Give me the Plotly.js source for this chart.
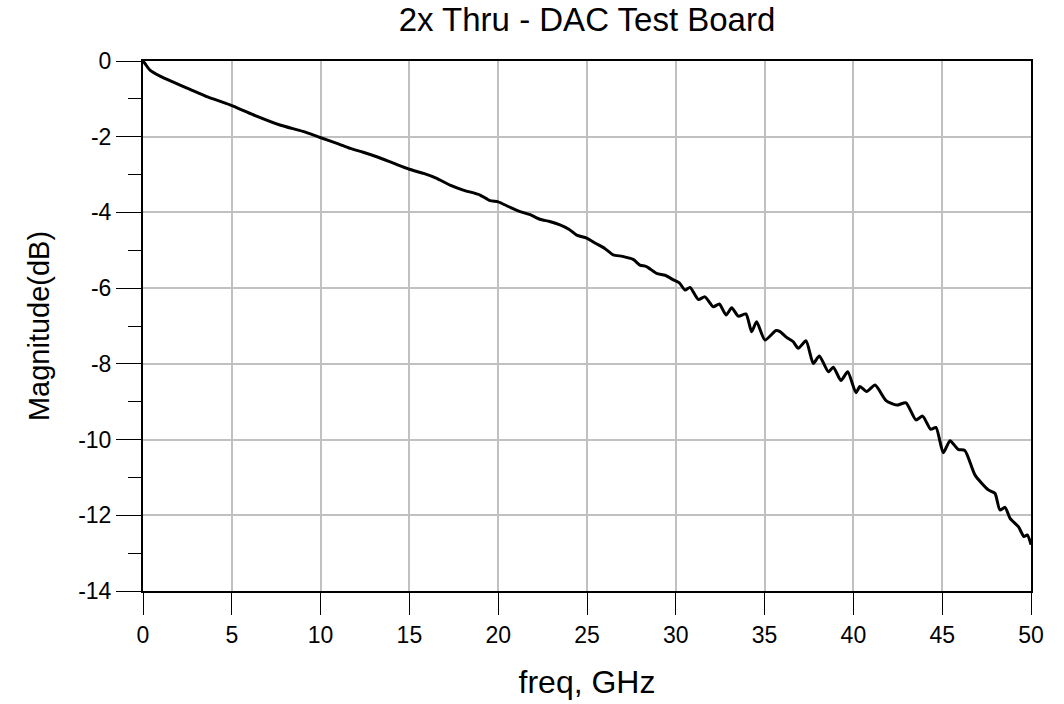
<!DOCTYPE html>
<html>
<head>
<meta charset="utf-8">
<script src="https://cdn.plot.ly/plotly-3.0.1.min.js"></script>
<style>html,body{margin:0;padding:0;background:#fff;}#chart{width:1064px;height:704px;}</style>
</head>
<body>
<div id="chart"></div>
<script>
const freq = [0, 0.1, 0.39, 0.96, 1.71, 2.65, 3.59, 4.9, 6.21, 7.71, 9.0, 9.97, 11.0, 11.66, 12.4, 13.16, 14.1, 15.0, 15.8, 16.54, 17.29, 18.03, 18.98, 19.54, 20.0, 20.6, 21.23, 21.8, 22.35, 22.9, 23.48, 24.0, 24.42, 24.98, 25.5, 26.0, 26.48, 27.0, 27.6, 27.98, 28.35, 28.92, 29.4, 29.86, 30.2, 30.52, 30.8, 31.27, 31.64, 32.11, 32.45, 32.83, 33.15, 33.52, 33.95, 34.27, 34.55, 35.02, 35.64, 35.87, 36.24, 36.6, 36.9, 37.33, 37.74, 38.08, 38.59, 38.87, 39.30, 39.68, 40.14, 40.37, 40.75, 41.22, 41.84, 42.44, 42.96, 43.52, 43.9, 44.35, 44.65, 45.06, 45.44, 45.9, 46.28, 46.85, 47.6, 47.97, 48.25, 48.54, 48.82, 49.29, 49.6, 49.79, 49.98, 50];
const magnitude = [0, -0.06, -0.24, -0.40, -0.56, -0.75, -0.94, -1.16, -1.42, -1.69, -1.86, -2.02, -2.19, -2.31, -2.41, -2.53, -2.70, -2.86, -2.97, -3.10, -3.28, -3.41, -3.54, -3.69, -3.72, -3.85, -3.98, -4.06, -4.18, -4.24, -4.33, -4.45, -4.60, -4.68, -4.82, -4.95, -5.12, -5.16, -5.24, -5.39, -5.43, -5.61, -5.66, -5.78, -5.86, -6.05, -5.98, -6.30, -6.23, -6.49, -6.42, -6.71, -6.52, -6.74, -6.68, -7.15, -6.89, -7.37, -7.12, -7.15, -7.30, -7.41, -7.59, -7.39, -7.99, -7.79, -8.21, -8.09, -8.44, -8.21, -8.76, -8.60, -8.73, -8.56, -8.97, -9.09, -9.03, -9.48, -9.38, -9.73, -9.68, -10.35, -10.03, -10.26, -10.29, -10.94, -11.33, -11.42, -11.86, -11.79, -12.08, -12.30, -12.56, -12.52, -12.74, -12.78];
const xTickVals = [0, 5, 10, 15, 20, 25, 30, 35, 40, 45, 50];
const xTickLabels = ["0", "5", "10", "15", "20", "25", "30", "35", "40", "45", "50"];
const yTickVals = [0, -2, -4, -6, -8, -10, -12, -14];
const yTickLabels = ["0", "-2", "-4", "-6", "-8", "-10", "-12", "-14"];
const yMinorVals = [-1, -3, -5, -7, -9, -11, -13];

const font = "Liberation Sans, Arial, sans-serif";
const trace = {
  x: freq, y: magnitude, type: 'scatter', mode: 'lines',
  line: {color: '#000', width: 3, shape: 'spline', smoothing: 0.6},
  hoverinfo: 'skip'
};
const layout = {
  width: 1064, height: 704,
  margin: {l: 143, r: 33, t: 61, b: 113},
  paper_bgcolor: '#fff', plot_bgcolor: '#fff',
  showlegend: false,
  font: {family: font, color: '#000', size: 23},
  title: {text: '2x Thru - DAC Test Board', font: {family: font, size: 33, color: '#000'},
          x: 0.5, xanchor: 'center', xref: 'paper', y: 0.972, yanchor: 'middle', yref: 'container'},
  xaxis: {
    range: [0, 50], tickvals: xTickVals, ticktext: xTickLabels,
    ticks: 'outside', ticklen: 22, tickwidth: 1, tickcolor: '#000',
    showgrid: true, gridcolor: '#c0c0c0', gridwidth: 2,
    showline: true, linecolor: '#000', linewidth: 2, mirror: true, zeroline: false,
    tickfont: {family: font, size: 23, color: '#000'},
    title: {text: 'freq, GHz', font: {family: font, size: 32, color: '#000'}, standoff: 24}
  },
  yaxis: {
    range: [-14, 0], tickvals: yTickVals, ticktext: yTickLabels,
    ticks: 'outside', ticklen: 25, tickwidth: 1, tickcolor: '#000',
    minor: {tickvals: yMinorVals, ticks: 'outside', ticklen: 13, tickwidth: 1, tickcolor: '#000', showgrid: false},
    showgrid: true, gridcolor: '#c0c0c0', gridwidth: 2,
    showline: true, linecolor: '#000', linewidth: 2, mirror: true, zeroline: false,
    tickfont: {family: font, size: 23, color: '#000'},
    title: {text: 'Magnitude(dB)', font: {family: font, size: 29, color: '#000'}, standoff: 20}
  }
};
Plotly.newPlot('chart', [trace], layout, {displayModeBar: false, staticPlot: true});
</script>
</body>
</html>
